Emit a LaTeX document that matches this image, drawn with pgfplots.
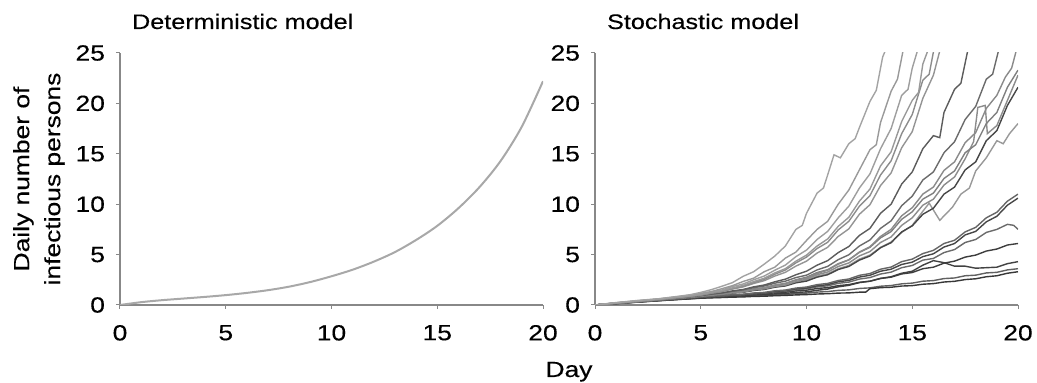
\documentclass[border=0pt]{standalone}
\usepackage{pgfplots}
\pgfplotsset{compat=1.18}
\usepackage{fontspec}
\setmainfont[FakeStretch=1.2, FakeBold=0.3]{Liberation Sans}
\definecolor{axgray}{HTML}{888888}
\definecolor{detgray}{HTML}{A8A8A8}
\pgfplotsset{
  panel/.style={
    scale only axis, width=211.5pt, height=126pt,
    xmin=0, xmax=20, ymin=0, ymax=25,
    axis x line*=bottom, axis y line*=left,
    axis line style={draw=axgray, line width=0.6pt},
    xtick={0,5,10,15,20}, ytick={0,5,10,15,20,25},
    tick align=outside, major tick length=2pt,
    tick style={draw=axgray, line width=0.5pt},
    /pgf/number format/assume math mode=true,
    tick label style={font=\fontsize{11}{13}\selectfont, black},
    xticklabel style={yshift=-4.5pt},
    yticklabel style={xshift=-2pt},
    title style={at={(0,1)}, anchor=base west, xshift=2.5pt, yshift=6pt, font=\fontsize{10.5}{12}\selectfont},
    clip=true,
  },
  s/.style={line width=0.7pt, color=#1},
}
\begin{document}
\begin{tikzpicture}
\path[use as bounding box] (-60pt,-39pt) rectangle (458.5pt,152.5pt);
\begin{axis}[panel,
  title={Deterministic model},
  ylabel={Daily number of\\infectious persons},
  ylabel style={at={(axis description cs:-0.1915,0.5)}, anchor=center, align=center, font=\fontsize{11}{15.5}\selectfont},
]
\addplot[smooth, line width=1pt, detgray] coordinates {(0,0)(1,0.28)(2,0.48)(3,0.64)(4,0.8)(5,0.98)(6,1.2)(7,1.47)(8,1.82)(9,2.28)(10,2.85)(11,3.5)(12,4.3)(13,5.25)(14,6.45)(15,7.85)(16,9.6)(17,11.7)(18,14.3)(19,17.7)(20,22.2)};
\end{axis}
\begin{axis}[panel, at={(237.5pt,0pt)}, title={Stochastic model}]
% slow, dark group
\addplot[s={black!62}] coordinates {(0,0)(1,0.15)(2,0.29)(3,0.43)(4,0.56)(4.5,0.62)(5,0.69)(5.5,0.73)(6,0.77)(6.5,0.82)(7,0.85)(7.5,0.91)(8,0.94)(8.5,1.01)(9,1.05)(9.5,1.13)(10,1.18)(10.5,1.28)(11,1.33)(11.5,1.45)(12,1.5)(12.5,1.64)(13,1.7)(13.5,1.86)(14,1.93)(14.5,2.1)(15,2.17)(15.5,2.36)(16,2.42)(16.5,2.62)(17,2.68)(17.5,2.9)(18,2.96)(18.5,3.18)(19,3.24)(19.5,3.48)(20,3.6)};
\addplot[s={black!78}] coordinates {(0,0)(1,0.14)(2,0.28)(3,0.42)(4,0.55)(4.5,0.61)(5,0.67)(5.5,0.71)(6,0.74)(6.5,0.78)(7,0.8)(7.5,0.85)(8,0.87)(8.5,0.92)(9,0.95)(9.5,1.0)(10,1.03)(10.5,1.09)(11,1.12)(11.5,1.18)(12,1.2)(12.5,1.27)(12.8,1.28)(13,1.62)(13.5,1.72)(14,1.76)(14.5,1.88)(15,1.92)(15.5,2.06)(16,2.12)(16.5,2.28)(17,2.35)(17.5,2.52)(18,2.6)(18.5,2.8)(19,2.9)(19.5,3.15)(20,3.3)};
\addplot[s={black!74}] coordinates {(0,0)(1,0.15)(2,0.3)(3,0.44)(4,0.58)(4.5,0.65)(5,0.72)(5.5,0.77)(6,0.81)(6.5,0.87)(7,0.91)(7.5,0.98)(8,1.02)(8.5,1.1)(9,1.15)(9.5,1.25)(10,1.3)(10.5,1.46)(11,1.58)(11.5,1.8)(12,1.95)(12.5,2.22)(13,2.36)(13.5,2.64)(14,2.8)(14.5,3.15)(15,3.35)(15.5,3.95)(16,4.4)(16.5,4.2)(17,3.85)(17.5,3.85)(18,3.65)(18.5,3.7)(19,3.75)(19.5,4.1)(20,4.3)};
\addplot[s={black!76}] coordinates {(0,0)(1,0.15)(2,0.3)(3,0.45)(4,0.6)(4.5,0.67)(5,0.74)(5.5,0.8)(6,0.85)(6.5,0.92)(7,0.96)(7.5,1.05)(8,1.1)(8.5,1.21)(9,1.27)(9.5,1.4)(10,1.47)(10.5,1.64)(11,1.72)(11.5,1.92)(12,2.02)(12.5,2.25)(13,2.36)(13.5,2.63)(14,2.76)(14.5,3.08)(15,3.22)(15.5,3.6)(16,3.75)(16.5,4.15)(17,4.35)(17.5,4.75)(18,4.95)(18.5,5.35)(19,5.55)(19.5,5.95)(20,6.1)};
\addplot[s={black!58}] coordinates {(0,0)(1,0.16)(2,0.31)(3,0.46)(4,0.62)(4.5,0.7)(5,0.78)(5.5,0.84)(6,0.89)(6.5,0.97)(7,1.02)(7.5,1.12)(8,1.17)(8.5,1.3)(9,1.36)(9.5,1.52)(10,1.6)(10.5,1.8)(11,1.9)(11.5,2.15)(12,2.27)(12.5,2.57)(13,2.72)(13.5,3.07)(14,3.26)(14.5,3.7)(15,3.92)(15.5,4.45)(16,4.62)(16.5,5.2)(17,5.5)(17.5,6.2)(18,6.5)(18.5,7.2)(19,7.5)(19.5,8.0)(19.8,7.9)(20,7.5)};
\addplot[s={black!72}] coordinates {(0,0)(1,0.16)(2,0.32)(3,0.47)(4,0.63)(4.5,0.71)(5,0.79)(5.5,0.86)(6,0.91)(6.5,0.99)(7,1.04)(7.5,1.15)(8,1.2)(8.5,1.35)(9,1.42)(9.5,1.6)(10,1.68)(10.5,1.9)(11,2.02)(11.5,2.3)(12,2.44)(12.5,2.77)(13,2.95)(13.5,3.35)(14,3.55)(14.5,4.02)(15,4.25)(15.5,4.8)(16,5.08)(16.5,5.75)(17,6.1)(17.5,6.95)(18,7.3)(18.5,8.25)(19,8.8)(19.5,9.9)(20,10.6)};
\addplot[s={black!60}] coordinates {(0,0)(1,0.16)(2,0.32)(3,0.48)(4,0.64)(4.5,0.72)(5,0.8)(5.5,0.87)(6,0.92)(6.5,1.01)(7,1.07)(7.5,1.19)(8,1.25)(8.5,1.41)(9,1.48)(9.5,1.68)(10,1.78)(10.5,2.02)(11,2.14)(11.5,2.43)(12,2.58)(12.5,2.94)(13,3.12)(13.5,3.55)(14,3.76)(14.5,4.3)(15,4.55)(15.5,5.1)(16,5.42)(16.5,6.1)(17,6.42)(17.5,7.25)(18,7.7)(18.5,8.65)(19,9.2)(19.5,10.3)(20,11.0)};
% middle group
\addplot[s={black!40}] coordinates {(0,0)(1,0.18)(2,0.35)(3,0.52)(4,0.69)(4.5,0.78)(5,0.87)(5.5,0.97)(6,1.06)(6.5,1.2)(7,1.3)(7.5,1.49)(8,1.6)(8.5,1.84)(9,1.98)(9.5,2.3)(10,2.48)(10.5,2.86)(11,3.1)(11.5,3.6)(12,3.92)(12.5,4.55)(13,4.95)(13.5,5.72)(14,6.25)(14.5,7.2)(15,7.9)(15.5,9.3)(15.8,10.1)(16.3,8.4)(16.9,9.7)(17.3,11.0)(17.7,11.6)(18,13.3)(18.5,14.6)(19,16.3)(19.3,16.0)(19.6,17.0)(20,18.0)};
\addplot[s={black!72}] coordinates {(0,0)(1,0.17)(2,0.34)(3,0.5)(4,0.67)(4.5,0.76)(5,0.85)(5.5,0.96)(6,1.04)(6.5,1.18)(7,1.26)(7.5,1.44)(8,1.54)(8.5,1.76)(9,1.89)(9.5,2.2)(10,2.37)(10.5,2.76)(11,3.0)(11.5,3.52)(12,3.82)(12.5,4.45)(13,4.86)(13.5,5.68)(14,6.18)(14.5,7.25)(15,7.85)(15.5,9.0)(16,9.6)(16.5,11.0)(17,11.7)(17.5,13.4)(18,14.2)(18.5,16.3)(19,17.3)(19.5,19.8)(20,21.6)};
\addplot[s={black!45}] coordinates {(0,0)(1,0.17)(2,0.34)(3,0.51)(4,0.68)(4.5,0.77)(5,0.86)(5.5,0.96)(6,1.05)(6.5,1.2)(7,1.29)(7.5,1.49)(8,1.6)(8.5,1.83)(9,1.97)(9.5,2.32)(10,2.56)(10.5,3.0)(11,3.27)(11.5,3.82)(12,4.17)(12.5,4.87)(13,5.3)(13.5,6.2)(14,6.75)(14.5,7.9)(15,8.65)(15.5,9.9)(16,10.5)(16.5,11.9)(17,12.7)(17.5,14.5)(17.9,16.2)(18.1,19.6)(18.45,19.8)(18.55,17.0)(19,17.8)(19.5,20.3)(20,22.8)};
\addplot[s={black!50}] coordinates {(0,0)(1,0.17)(2,0.35)(3,0.52)(4,0.7)(4.5,0.8)(5,0.9)(5.5,1.02)(6,1.1)(6.5,1.27)(7,1.37)(7.5,1.58)(8,1.7)(8.5,1.96)(9,2.12)(9.5,2.5)(10,2.76)(10.5,3.22)(11,3.5)(11.5,4.1)(12,4.48)(12.5,5.22)(13,5.72)(13.5,6.66)(14,7.28)(14.5,8.5)(15,9.25)(15.5,10.5)(16,11.1)(16.5,12.55)(17,13.3)(17.5,15.1)(18,15.9)(18.5,18.0)(19,19.1)(19.5,21.6)(20,23.3)};
\addplot[s={black!46}] coordinates {(0,0)(1,0.18)(2,0.35)(3,0.52)(4,0.7)(4.5,0.8)(5,0.9)(5.5,1.02)(6,1.11)(6.5,1.27)(7,1.38)(7.5,1.59)(8,1.72)(8.5,1.98)(9,2.15)(9.5,2.46)(10,2.66)(10.5,3.12)(11,3.45)(11.5,4.05)(12,4.47)(12.5,5.25)(13,5.78)(13.5,6.8)(14,7.5)(14.5,8.85)(15,9.65)(15.5,11.0)(16,11.7)(16.5,13.35)(17,14.2)(17.5,16.1)(18,17.1)(18.5,19.5)(19,20.8)(19.4,22.6)(19.7,23.5)(19.95,25.5)};
\addplot[s={black!58}] coordinates {(0,0)(1,0.18)(2,0.36)(3,0.54)(4,0.73)(4.5,0.83)(5,0.95)(5.5,1.08)(6,1.19)(6.5,1.36)(7,1.49)(7.5,1.72)(8,1.88)(8.5,2.16)(9,2.36)(9.5,2.72)(10,2.96)(10.5,3.48)(11,3.83)(11.5,4.5)(12,4.98)(12.5,5.85)(13,6.45)(13.5,7.6)(14,8.35)(14.5,9.85)(15,10.8)(15.5,12.4)(16,13.2)(16.5,15.1)(17,16.2)(17.5,18.4)(18,19.7)(18.5,22.4)(18.8,22.9)(19.1,25.4)};
\addplot[s={black!64}] coordinates {(0,0)(1,0.19)(2,0.37)(3,0.54)(4,0.73)(4.5,0.83)(5,0.94)(5.5,1.09)(6,1.2)(6.5,1.4)(7,1.54)(7.5,1.8)(8,1.98)(8.5,2.3)(9,2.56)(9.5,3.0)(10,3.35)(10.5,3.95)(11,4.4)(11.5,5.2)(12,5.8)(12.5,6.9)(13,7.6)(13.5,9.1)(14,10.0)(14.5,12.0)(15,13.2)(15.5,15.5)(16,16.8)(16.3,16.6)(16.5,19.1)(17,21.4)(17.3,22.0)(17.6,25.0)(17.7,25.8)};
% fast, light group
\addplot[s={black!42}] coordinates {(0,0)(1,0.2)(2,0.37)(3,0.55)(4,0.75)(4.5,0.86)(5,0.98)(5.5,1.17)(6,1.33)(6.5,1.58)(7,1.79)(7.5,2.13)(8,2.41)(8.5,2.87)(9,3.24)(9.5,3.86)(10,4.35)(10.5,5.15)(11,5.72)(11.5,6.8)(12,7.55)(12.5,9.0)(13,9.95)(13.5,11.85)(14,13.1)(14.5,15.6)(15,17.2)(15.5,20.5)(16,22.8)(16.3,25.2)(16.4,25.8)};
\addplot[s={black!45}] coordinates {(0,0)(1,0.19)(2,0.38)(3,0.56)(4,0.76)(4.5,0.87)(5,1.0)(5.5,1.19)(6,1.35)(6.5,1.63)(7,1.85)(7.5,2.22)(8,2.54)(8.5,3.05)(9,3.47)(9.5,4.18)(10,4.75)(10.5,5.6)(11,6.22)(11.5,7.45)(12,8.3)(12.5,9.8)(13,10.85)(13.5,12.9)(14,14.3)(14.5,17.0)(15,18.9)(15.5,22.3)(15.8,22.9)(16,25.1)(16.1,25.8)};
\addplot[s={black!40}] coordinates {(0,0)(1,0.21)(2,0.39)(3,0.57)(4,0.78)(4.5,0.9)(5,1.04)(5.5,1.25)(6,1.41)(6.5,1.7)(7,1.94)(7.5,2.32)(8,2.65)(8.5,3.18)(9,3.6)(9.5,4.35)(10,4.95)(10.5,5.85)(11,6.55)(11.5,7.8)(12,8.7)(12.5,10.3)(13,11.5)(13.5,13.8)(14,15.2)(14.5,18.2)(15,20.3)(15.3,21.1)(15.5,23.9)(15.8,25.6)};
\addplot[s={black!38}] coordinates {(0,0)(1,0.2)(2,0.4)(3,0.58)(4,0.8)(4.5,0.93)(5,1.1)(5.5,1.32)(6,1.48)(6.5,1.83)(7,2.08)(7.5,2.5)(8,2.87)(8.5,3.45)(9,3.96)(9.5,4.8)(10,5.45)(10.5,6.5)(11,7.3)(11.5,8.65)(12,9.8)(12.5,11.6)(13,13.0)(13.5,15.5)(14,17.5)(14.5,20.8)(14.8,21.4)(15,23.5)(15.3,25.6)};
\addplot[s={black!40}] coordinates {(0,0)(1,0.22)(2,0.41)(3,0.6)(4,0.84)(4.5,0.98)(5,1.16)(5.5,1.33)(6,1.62)(6.5,1.92)(7,2.33)(7.5,2.66)(8,3.3)(8.5,3.75)(9,4.65)(9.5,5.25)(10,6.4)(10.5,7.5)(11,8.3)(11.5,10.0)(12,11.4)(12.5,13.4)(13,15.4)(13.3,15.9)(13.5,18.1)(14,21.2)(14.3,22.4)(14.6,25.6)};
\addplot[s={black!36}] coordinates {(0,0)(1,0.24)(2,0.45)(3,0.62)(4,0.88)(4.5,1.02)(5,1.25)(5.5,1.52)(6,1.86)(6.5,2.22)(7,2.84)(7.5,3.3)(8,4.05)(8.5,4.85)(9,5.85)(9.5,7.5)(9.8,7.9)(10,9.1)(10.5,11.1)(10.8,11.6)(11,12.9)(11.3,14.9)(11.6,14.6)(12,16.0)(12.3,16.5)(12.5,17.6)(13,20.2)(13.3,21.3)(13.6,24.6)(13.8,25.6)};
\end{axis}
\node[anchor=base, font=\fontsize{11}{13}\selectfont] at (224.5pt,-36pt) {Day};
\end{tikzpicture}
\end{document}
